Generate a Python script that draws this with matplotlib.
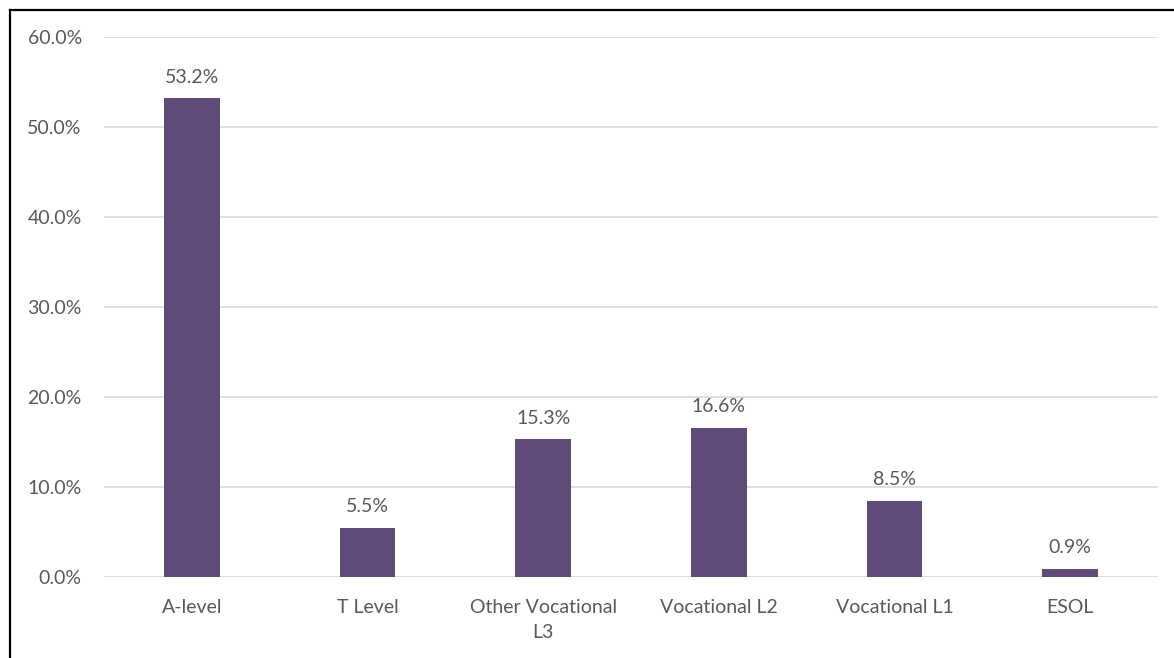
import matplotlib
matplotlib.use("Agg")
import matplotlib.pyplot as plt
from matplotlib.lines import Line2D

# Data
categories = ["A-level", "T Level", "Other Vocational\nL3", "Vocational L2", "Vocational L1", "ESOL"]
shares = [53.2, 5.5, 15.3, 16.6, 8.5, 0.9]
y_ticks = [0, 10, 20, 30, 40, 50, 60]

bar_color = "#5F4A7A"
text_color = "#595959"
grid_color = "#D9D9D9"

plt.rcParams["font.family"] = ["Lato", "DejaVu Sans"]

fig = plt.figure(figsize=(11.74, 6.58), dpi=100)
ax = fig.add_axes([104 / 1174, 1 - 577 / 658, 1054 / 1174, 540 / 658])

x = range(len(categories))
ax.bar(x, shares, width=0.315, color=bar_color, zorder=3)

for xi, v in zip(x, shares):
    ax.annotate(f"{v:.1f}%", (xi, v), xytext=(0, 9), textcoords="offset points",
                ha="center", va="bottom", fontsize=14, color=text_color)

ax.set_xlim(-0.5, len(categories) - 0.5)
ax.set_ylim(0, 60)
ax.set_yticks(y_ticks)
ax.set_yticklabels([f"{t:.1f}%" for t in y_ticks])
ax.set_xticks(list(x))
ax.set_xticklabels(categories, linespacing=1.55)
ax.tick_params(axis="both", length=0, labelsize=14, labelcolor=text_color)
ax.tick_params(axis="y", pad=16)
ax.tick_params(axis="x", pad=16)

ax.grid(axis="y", color=grid_color, linewidth=1.2, zorder=0)
for s in ax.spines.values():
    s.set_visible(False)

# black frame on the left and top edges
bx = 9.5 / 1174
by = 1 - 9.5 / 658
fig.add_artist(Line2D([bx, bx], [0, by], transform=fig.transFigure, color="black", linewidth=1.6))
fig.add_artist(Line2D([bx, 1], [by, by], transform=fig.transFigure, color="black", linewidth=1.6))

fig.savefig("out.png", dpi=100)
